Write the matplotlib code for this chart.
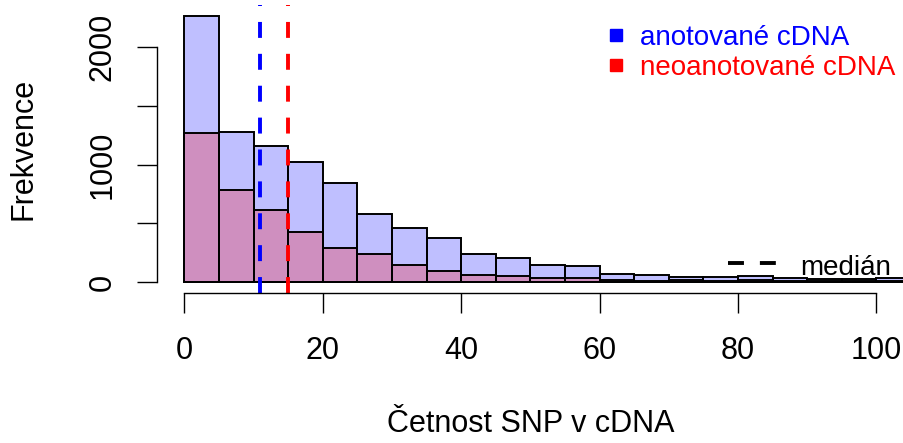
import matplotlib
matplotlib.use('Agg')
import matplotlib.pyplot as plt

plt.rcParams['font.family'] = ['Liberation Sans', 'DejaVu Sans']

# histogram bins (left edges, width 5) and counts per bin
bin_left = [0, 5, 10, 15, 20, 25, 30, 35, 40, 45, 50,
            55, 60, 65, 70, 75, 80, 85, 90, 95, 100]
anotovane = [2264, 1279, 1160, 1024, 840, 581, 457, 372, 236, 202, 142,
             140, 65, 63, 38, 38, 55, 37, 22, 26, 35]
neoanotovane = [1265, 783, 613, 423, 287, 236, 145, 96, 62, 51, 37,
                30, 15, 12, 15, 12, 15, 12, 8, 10, 12]
median_anot = 11
median_neo = 15

W, H = 904, 443


def fx(x):
    return x / W


def fy(y):
    return 1 - y / H


fig = plt.figure(figsize=(W / 100, H / 100), dpi=100)
ax = fig.add_axes([fx(156.7), fy(292.6), (904 - 156.7) / W, (292.6 - 5.4) / H])

top = max(anotovane)
ax.set_xlim(-4, 104)
ax.set_ylim(-0.04 * top, 1.04 * top)

ax.bar(bin_left, anotovane, width=5, align='edge',
       color=(0, 0, 1, 0.25), edgecolor='black', linewidth=1.4)
ax.bar(bin_left, neoanotovane, width=5, align='edge',
       color=(1, 0, 0, 0.25), edgecolor='black', linewidth=1.4)

ymin, ymax = ax.get_ylim()
ax.plot([median_anot, median_anot], [ymin, ymax], color='blue',
        lw=2.8, dashes=(4.1, 4.1), dash_capstyle='butt')
ax.plot([median_neo, median_neo], [ymin, ymax], color='red',
        lw=2.8, dashes=(4.1, 4.1), dash_capstyle='butt')

# R-like axes: open frame, spines only over tick range
for s in ['top', 'right']:
    ax.spines[s].set_visible(False)
ax.spines['left'].set_bounds(0, 2000)
ax.spines['bottom'].set_bounds(0, 100)
for s in ['left', 'bottom']:
    ax.spines[s].set_linewidth(1.0)

ax.set_xticks([0, 20, 40, 60, 80, 100])
ax.set_yticks([0, 500, 1000, 1500, 2000])
ax.set_yticklabels(['0', '', '1000', '', '2000'])
ax.tick_params(axis='both', length=14.4, width=1.0, labelsize=22, color='black')
ax.tick_params(axis='x', pad=17)
ax.tick_params(axis='y', pad=14)
for lab in ax.get_yticklabels():
    lab.set_rotation(90)
    lab.set_va('center')
    lab.set_ha('right')

fig.text(fx(530.5), fy(432), 'Četnost SNP v cDNA', fontsize=22,
         ha='center', va='baseline')
fig.text(fx(23), fy(149), 'Frekvence', fontsize=22, rotation=90,
         ha='center', va='center')

# legend with coloured squares
ax.plot([fx(616)], [fy(35)], marker='s', markersize=9, color='blue',
        transform=fig.transFigure, clip_on=False)
ax.plot([fx(616)], [fy(64.5)], marker='s', markersize=9, color='red',
        transform=fig.transFigure, clip_on=False)
fig.text(fx(640), fy(45), 'anotované cDNA', fontsize=20, color='blue',
         ha='left', va='baseline')
fig.text(fx(640), fy(75), 'neoanotované cDNA', fontsize=20, color='red',
         ha='left', va='baseline')

# legend for the median lines
ax.plot([fx(728), fx(777)], [fy(263), fy(263)], color='black', lw=2.8,
        dashes=(4.1, 4.1), dash_capstyle='butt',
        transform=fig.transFigure, clip_on=False)
fig.text(fx(800), fy(275), 'medián', fontsize=20, ha='left', va='baseline')

fig.savefig('out.png', dpi=100)
